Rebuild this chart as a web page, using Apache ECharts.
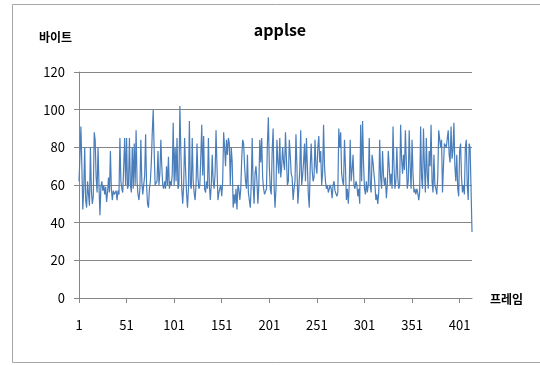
<!DOCTYPE html>
<html>
<head>
<meta charset="utf-8">
<script src="https://cdn.jsdelivr.net/npm/echarts@6/dist/echarts.min.js"></script>
<style>
  html, body { margin: 0; padding: 0; background: #fff; }
  #chart { width: 540px; height: 365px; }
</style>
</head>
<body>
<div id="chart"></div>
<script>
// Bytes per frame for the "applse" stream
const bytesPerFrame = [
  62, 75, 91, 70, 47, 58, 80, 52, 48, 62, 55, 49, 80, 57, 50, 54, 88, 84, 64, 56,
  80, 60, 44, 59, 62, 57, 60, 55, 59, 51, 56, 64, 56, 78, 58, 52, 57, 55, 54, 57,
  52, 57, 55, 85, 62, 58, 56, 70, 85, 60, 85, 58, 60, 85, 60, 56, 80, 58,
  82, 60, 89, 62, 55, 52, 58, 84, 62, 55, 56, 65, 87, 60, 50, 48, 58, 62, 72, 88,
  100, 78, 60, 59, 62, 78, 60, 66, 84, 70, 60, 58, 62, 58, 70, 60, 75, 58, 62, 60,
  66, 93, 60, 80, 62, 85, 58, 60, 102, 78, 58, 50, 60, 85, 68, 56, 48, 58, 94, 60,
  58, 85, 62, 56, 52, 60, 82, 64, 58, 60, 75, 92, 65, 86, 58, 56, 62, 58, 85, 60,
  52, 60, 76, 62, 58, 66, 89, 70, 52, 56, 58, 60, 54, 62, 88, 80, 70, 84, 76, 85,
  82, 60, 80, 72, 48, 55, 50, 58, 47, 60, 58, 52, 58, 74, 84, 82, 70, 62, 58, 76,
  56, 52, 48, 60, 85, 60, 50, 66, 70, 62, 50, 60, 84, 72, 85, 64, 58, 55, 56, 58,
  82, 96, 70, 58, 55, 78, 90, 60, 48, 58, 84, 72, 66, 85, 64, 70, 80, 72, 68, 88,
  74, 60, 62, 84, 76, 66, 64, 52, 58, 62, 87, 70, 50, 58, 68, 89, 60, 65, 72, 82,
  62, 85, 70, 55, 48, 70, 82, 68, 62, 64, 84, 70, 66, 80, 86, 72, 78, 60, 66, 92,
  70, 62, 58, 60, 56, 55, 60, 58, 53, 60, 62, 57, 58, 54, 56, 90, 80, 88, 66, 62,
  60, 84, 70, 52, 58, 50, 60, 84, 62, 68, 76, 60, 58, 62, 60, 54, 58, 50, 92, 62,
  94, 72, 58, 55, 62, 56, 60, 85, 60, 56, 76, 72, 66, 60, 52, 55, 50, 56, 84, 64,
  58, 78, 65, 60, 64, 53, 60, 78, 70, 60, 66, 58, 91, 70, 58, 62, 80, 64, 58, 60,
  92, 74, 66, 76, 68, 89, 72, 58, 62, 89, 70, 58, 84, 66, 56, 58, 55, 58, 56, 52,
  56, 91, 64, 58, 90, 70, 56, 85, 66, 58, 78, 70, 92, 62, 56, 76, 60, 58, 55, 64,
  89, 90, 80, 84, 56, 70, 82, 82, 80, 79, 89, 76, 72, 91, 74, 78, 93, 70, 62, 76,
  58, 54, 78, 82, 64, 56, 60, 55, 80, 84, 60, 52, 82, 80, 58, 35
];

// Frame numbers start at 1
const frames = bytesPerFrame.map((_, i) => String(i + 1));

const yTicks = { min: 0, max: 120, interval: 20 };
const titleText = 'applse';
const yAxisTitle = '바이트';
const xAxisTitle = '프레임';

const font = '"Noto Sans CJK KR", "Noto Sans", sans-serif';
const gridColor = '#868686';

const chart = echarts.init(document.getElementById('chart'), null, { renderer: 'canvas' });

chart.setOption({
  animation: false,
  backgroundColor: '#fff',
  textStyle: { fontFamily: font },
  title: {
    text: titleText,
    left: 275,
    top: 17,
    textAlign: 'center',
    textStyle: { fontFamily: font, fontSize: 16, fontWeight: 'bold', color: '#000' }
  },
  graphic: [
    {
      type: 'rect',
      shape: { x: 12.5, y: 4.5, width: 560, height: 358 },
      style: { fill: 'none', stroke: '#a6a6a6', lineWidth: 1 },
      silent: true
    },
    {
      type: 'text',
      left: 39,
      top: 31,
      style: { text: yAxisTitle, font: 'bold 12px ' + font, fill: '#000' }
    },
    {
      type: 'text',
      left: 490,
      top: 293,
      style: { text: xAxisTitle, font: 'bold 12px ' + font, fill: '#000' }
    }
  ],
  grid: { left: 79, right: 68, top: 72, bottom: 67, containLabel: false },
  xAxis: {
    type: 'category',
    data: frames,
    boundaryGap: false,
    axisLine: { lineStyle: { color: gridColor, width: 1 } },
    axisTick: { show: true, interval: 49, length: 5, lineStyle: { color: gridColor } },
    axisLabel: {
      interval: 49,
      margin: 21,
      fontSize: 13,
      color: '#000',
      fontFamily: font
    },
    splitLine: { show: false }
  },
  yAxis: {
    type: 'value',
    min: yTicks.min,
    max: yTicks.max,
    interval: yTicks.interval,
    axisLine: { show: true, lineStyle: { color: gridColor, width: 1 } },
    axisTick: { show: true, length: 5, lineStyle: { color: gridColor } },
    axisLabel: { margin: 14, fontSize: 13, color: '#000', fontFamily: font },
    splitLine: { show: true, lineStyle: { color: gridColor, width: 1 } }
  },
  series: [
    {
      type: 'line',
      data: bytesPerFrame,
      showSymbol: false,
      symbol: 'none',
      lineStyle: { color: '#4a7ebb', width: 1.2 },
      itemStyle: { color: '#4a7ebb' }
    }
  ]
});
</script>
</body>
</html>
